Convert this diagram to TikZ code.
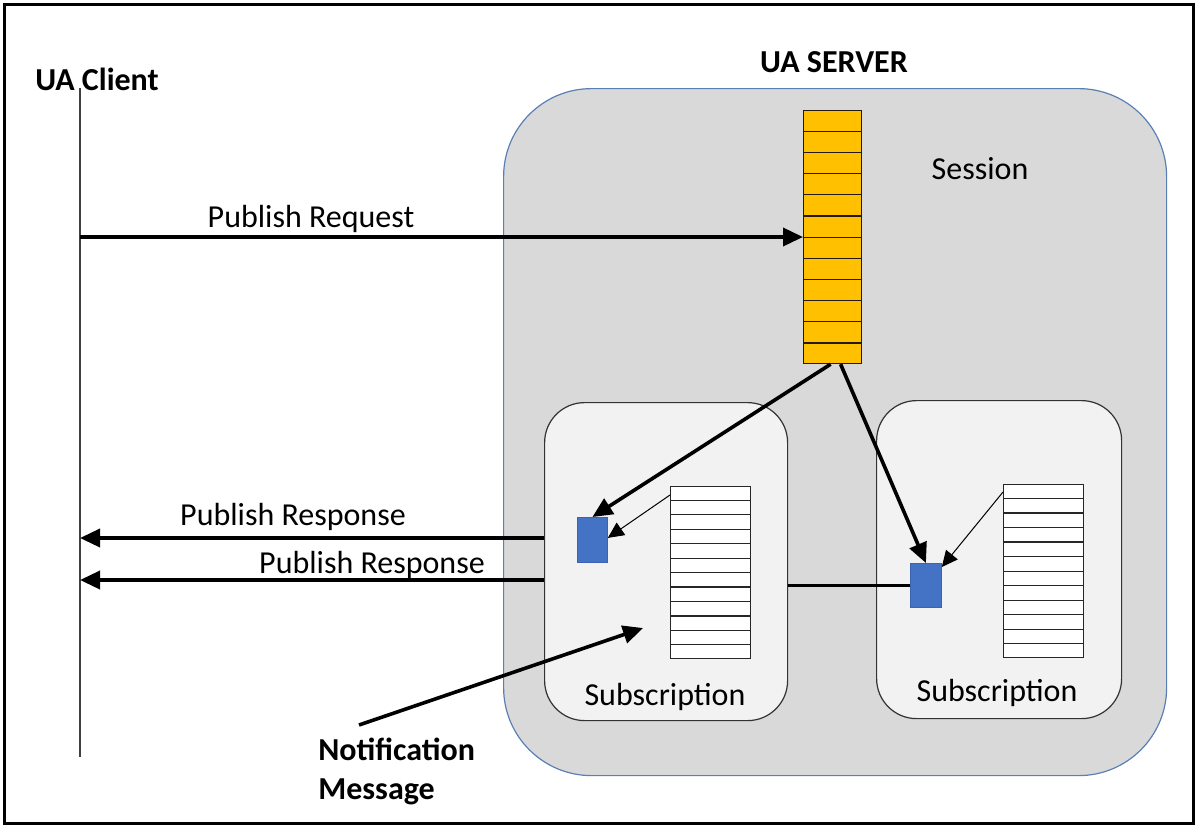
\documentclass[tikz,border=0pt]{standalone}
\usepackage{fontspec}
\setmainfont{Carlito}
\usetikzlibrary{arrows.meta,calc}
\definecolor{srvfill}{HTML}{D9D9D9}
\definecolor{srvline}{HTML}{5A7FB5}
\definecolor{subfill}{HTML}{F2F2F2}
\definecolor{qyellow}{HTML}{FFC000}
\definecolor{qblue}{HTML}{4472C4}
\definecolor{qblueline}{HTML}{3A64B0}
\tikzset{
  px/.style={x=0.5pt,y=-0.5pt},
  lbl/.style={font=\fontsize{16}{19.5}\selectfont, inner sep=0pt},
  blbl/.style={font=\fontsize{16}{19.5}\selectfont\bfseries, inner sep=0pt},
  serverbox/.style={draw=srvline, fill=srvfill, line width=0.6pt, rounded corners=44pt, anchor=north west, inner sep=0pt},
  subbox/.style={draw=black!80, fill=subfill, line width=0.6pt, rounded corners=20pt, anchor=north west, inner sep=0pt},
  stackbox/.style={draw=black!85, line width=0.6pt, anchor=north west, inner sep=0pt},
  msgbox/.style={draw=qblueline, fill=qblue, line width=0.4pt, anchor=north west, inner sep=0pt},
  bigarrow/.style={line width=1.8pt, -{Triangle[length=10pt,width=9pt]}},
  thinarrow/.style={line width=0.5pt, -{Triangle[length=8pt,width=7.5pt]}},
  plainline/.style={line width=1.3pt},
}
\begin{document}
\begin{tikzpicture}[px]
\useasboundingbox (0,0) rectangle (1197,825);
\draw[line width=1.5pt] (4,4) rectangle (1193,823);

% server
\node[serverbox, minimum width=331.5pt, minimum height=343.5pt] (srv) at (503,88) {};
\node[blbl] (srvlbl) at (834,62) {UA SERVER};
\node[lbl] (sess) at (980,169) {Session};

% session queue
\node[stackbox, fill=qyellow, draw=black!80!brown, minimum width=29pt, minimum height=126.5pt] (sq) at (803,110) {};
\foreach \i in {1,...,11} {
  \draw[black!80!brown, line width=0.6pt] ($(sq.north west)!\i/12!(sq.south west)$) -- ($(sq.north east)!\i/12!(sq.south east)$);
}

% subscriptions
\node[subbox, minimum width=121.5pt, minimum height=159pt] (sub1) at (544,402) {};
\node[subbox, minimum width=122.5pt, minimum height=159pt] (sub2) at (876,400) {};
\node[lbl] (sub1lbl) at (665,697) {Subscription};
\node[lbl] (sub2lbl) at (997,693) {Subscription};

\node[stackbox, fill=white, minimum width=40pt, minimum height=86pt] (st1) at (670,486) {};
\node[stackbox, fill=white, minimum width=40pt, minimum height=86.5pt] (st2) at (1003,484) {};
\foreach \i in {1,...,11} {
  \draw[black!85, line width=0.6pt] ($(st1.north west)!\i/12!(st1.south west)$) -- ($(st1.north east)!\i/12!(st1.south east)$);
  \draw[black!85, line width=0.6pt] ($(st2.north west)!\i/12!(st2.south west)$) -- ($(st2.north east)!\i/12!(st2.south east)$);
}

\node[msgbox, minimum width=15pt, minimum height=22.5pt] (b1) at (577,517) {};
\node[msgbox, minimum width=15.5pt, minimum height=22pt] (b2) at (910,563) {};

% client
\node[blbl] (client) at (97,79) {UA Client};
\coordinate (ctop) at (80,88);
\coordinate (cbot) at (80,757);
\draw[line width=0.6pt, black!75] (ctop) -- (cbot);

% publish request
\coordinate (preq) at (80,237);
\draw[bigarrow] (preq) -- (preq -| sq.west);
\node[lbl] (preqlbl) at (311,219) {Publish Request};

% publish responses
\coordinate (pr1) at (80,538);
\coordinate (pr2) at (80,580);
\draw[bigarrow] (pr1 -| sub1.west) -- (pr1);
\draw[bigarrow] (pr2 -| sub1.west) -- (pr2);
\node[lbl] (pr1lbl) at (293,517) {Publish Response};
\node[lbl] (pr2lbl) at (372,565) {Publish Response};

% session to subscriptions
\draw[bigarrow] ([xshift=-1pt]sq.south) -- (b1.north);
\draw[bigarrow] ([xshift=4pt]sq.south) -- (b2.north);

% queue to messages
\draw[thinarrow] ([yshift=-4.5pt]st1.north west) -- ([yshift=1pt]b1.east);
\draw[thinarrow] ([yshift=-4pt]st2.north west) -- ([yshift=-2pt]b2.north east);

% sub1 to b2 line
\draw[plainline] (b2.west -| sub1.east) -- (b2.west);

% notification
\coordinate (nstart) at (359,725);
\coordinate (nend) at (643,628);
\draw[bigarrow] (nstart) -- (nend);
\node[blbl, align=left, anchor=north west] (notif) at (318,738) {Notification\\Message};
\end{tikzpicture}
\end{document}
